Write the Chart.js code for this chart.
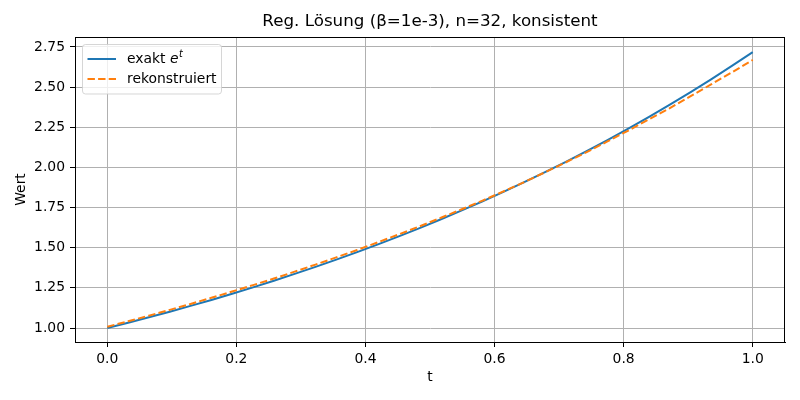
<!DOCTYPE html>
<html lang="de">
    <head>
        <meta charset="UTF-8" />
        <title>Reg. Lösung</title>
        <script src="https://cdn.jsdelivr.net/npm/chart.js"></script>
        <style>
            body { margin: 0; background: #fff; }
        </style>
    </head>
    <body>
        <canvas id="loesung" width="800" height="400"></canvas>

        <script>
            const tWerte = [
                0.0, 0.0323, 0.0645, 0.0968, 0.129, 0.1613, 0.1935, 0.2258,
                0.2581, 0.2903, 0.3226, 0.3548, 0.3871, 0.4194, 0.4516, 0.4839,
                0.5161, 0.5484, 0.5806, 0.6129, 0.6452, 0.6774, 0.7097, 0.7419,
                0.7742, 0.8065, 0.8387, 0.871, 0.9032, 0.9355, 0.9677, 1.0,
            ];
            const exaktWerte = [
                1.0, 1.0328, 1.0666, 1.1016, 1.1377, 1.175, 1.2135, 1.2533,
                1.2944, 1.3369, 1.3807, 1.4259, 1.4727, 1.521, 1.5709, 1.6223,
                1.6755, 1.7305, 1.7872, 1.8458, 1.9063, 1.9688, 2.0334, 2.1,
                2.1689, 2.24, 2.3135, 2.3893, 2.4676, 2.5485, 2.6321, 2.7183,
            ];
            const rekonWerte = [
                1.008, 1.042, 1.077, 1.113, 1.15, 1.188, 1.227, 1.267,
                1.308, 1.351, 1.395, 1.44, 1.486, 1.534, 1.583, 1.633,
                1.685, 1.738, 1.792, 1.849, 1.907, 1.968, 2.03, 2.094,
                2.16, 2.228, 2.298, 2.368, 2.442, 2.517, 2.592, 2.669,
            ];
            const xTicks = [0.0, 0.2, 0.4, 0.6, 0.8, 1.0];
            const yTicks = [1.0, 1.25, 1.5, 1.75, 2.0, 2.25, 2.5, 2.75];
            const titel = "Reg. Lösung (β=1e-3), n=32, konsistent";

            const schrift = "'DejaVu Sans', sans-serif";

            // Titel über dem Plotbereich, Rahmen oben/rechts, Legende (wie matplotlib)
            const rahmenUndLegende = {
                id: "rahmenUndLegende",
                afterDatasetsDraw(chart) {
                    const ctx = chart.ctx;
                    const a = chart.chartArea;
                    ctx.save();
                    ctx.strokeStyle = "#000";
                    ctx.lineWidth = 1;
                    ctx.strokeRect(a.left + 0.5, a.top + 0.5, a.right - a.left - 1, a.bottom - a.top);

                    ctx.fillStyle = "#000";
                    ctx.font = "16.7px " + schrift;
                    ctx.textAlign = "center";
                    ctx.textBaseline = "middle";
                    ctx.fillText(titel, (a.left + a.right) / 2, a.top - 15);

                    const x = a.left + 7.5, y = a.top + 7.5, w = 139, h = 49.5;
                    ctx.beginPath();
                    ctx.roundRect(x, y, w, h, 3);
                    ctx.fillStyle = "rgba(255,255,255,0.8)";
                    ctx.fill();
                    ctx.strokeStyle = "rgba(204,204,204,0.8)";
                    ctx.stroke();

                    chart.data.datasets.forEach((ds, i) => {
                        const cy = a.top + 22 + i * 20;
                        ctx.beginPath();
                        ctx.setLineDash(ds.borderDash || []);
                        ctx.strokeStyle = ds.borderColor;
                        ctx.lineWidth = ds.borderWidth;
                        ctx.moveTo(x + 5, cy);
                        ctx.lineTo(x + 33.5, cy);
                        ctx.stroke();
                        ctx.setLineDash([]);

                        ctx.fillStyle = "#000";
                        ctx.textBaseline = "middle";
                        ctx.textAlign = "left";
                        let tx = x + 44.5;
                        const teile = ds.label.split("^");
                        const vorne = teile[0];
                        if (teile.length > 1) {
                            const stamm = vorne.slice(0, -1);
                            const basis = vorne.slice(-1);
                            ctx.font = "13.9px " + schrift;
                            ctx.fillText(stamm, tx, cy);
                            tx += ctx.measureText(stamm).width;
                            ctx.font = "oblique 13.9px " + schrift;
                            ctx.fillText(basis, tx, cy);
                            tx += ctx.measureText(basis).width + 0.5;
                            ctx.font = "oblique 9.7px " + schrift;
                            ctx.fillText(teile[1], tx, cy - 5);
                        } else {
                            ctx.font = "13.9px " + schrift;
                            ctx.fillText(vorne, tx, cy);
                        }
                    });
                    ctx.restore();
                },
            };

            const ctx = document.getElementById("loesung").getContext("2d");
            new Chart(ctx, {
                type: "line",
                data: {
                    datasets: [
                        {
                            label: "exakt e^t",
                            data: tWerte.map((t, i) => ({ x: t, y: exaktWerte[i] })),
                            borderColor: "#1f77b4",
                            borderWidth: 2,
                            pointRadius: 0,
                            tension: 0,
                            order: 1,
                        },
                        {
                            label: "rekonstruiert",
                            data: tWerte.map((t, i) => ({ x: t, y: rekonWerte[i] })),
                            borderColor: "#ff7f0e",
                            borderWidth: 2,
                            borderDash: [7.4, 3.2],
                            pointRadius: 0,
                            tension: 0,
                            order: 0,
                        },
                    ],
                },
                options: {
                    responsive: false,
                    animation: false,
                    devicePixelRatio: 1,
                    layout: { padding: { left: 0, right: 15, top: 37, bottom: 0 } },
                    plugins: {
                        legend: { display: false },
                        tooltip: { enabled: false },
                        title: { display: false },
                    },
                    scales: {
                        x: {
                            type: "linear",
                            min: -0.05,
                            max: 1.05,
                            afterBuildTicks: (s) => { s.ticks = xTicks.map((v) => ({ value: v })); },
                            afterFit: (s) => { s.height = 58; },
                            ticks: {
                                color: "#000",
                                font: { family: schrift, size: 13.9 },
                                padding: 4,
                                maxRotation: 0,
                                callback: (v) => Number(v).toFixed(1),
                            },
                            grid: { color: "#b0b0b0", lineWidth: 1, tickColor: "#000", tickLength: 5, tickWidth: 1 },
                            border: { display: true, color: "#000", width: 1 },
                            title: {
                                display: true,
                                text: "t",
                                color: "#000",
                                font: { family: schrift, size: 13.9 },
                                padding: { top: 0, bottom: 14.5 },
                            },
                        },
                        y: {
                            type: "linear",
                            min: 0.913,
                            max: 2.812,
                            afterBuildTicks: (s) => { s.ticks = yTicks.map((v) => ({ value: v })); },
                            afterFit: (s) => { s.width = 75; },
                            ticks: {
                                color: "#000",
                                font: { family: schrift, size: 13.9 },
                                padding: 5,
                                callback: (v) => Number(v).toFixed(2),
                            },
                            grid: { color: "#b0b0b0", lineWidth: 1, tickColor: "#000", tickLength: 5, tickWidth: 1 },
                            border: { display: true, color: "#000", width: 1 },
                            title: {
                                display: true,
                                text: "Wert",
                                color: "#000",
                                font: { family: schrift, size: 13.9 },
                                padding: { top: 13.5, bottom: 0 },
                            },
                        },
                    },
                },
                plugins: [rahmenUndLegende],
            });
        </script>
    </body>
</html>
